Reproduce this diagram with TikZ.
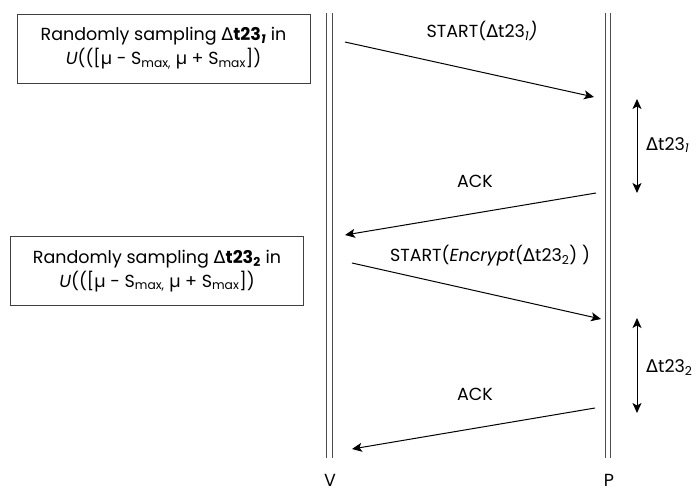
\documentclass[tikz,border=0pt]{standalone}
\usepackage{fontspec}
\setmainfont{Poppins}
\newfontfamily\greekfont{DejaVu Sans}
\newcommand{\Dl}{{\greekfont Δ}}
\newcommand{\mic}{µ}
\usetikzlibrary{arrows.meta}

\begin{document}
\begin{tikzpicture}[x=1pt, y=-1pt,
    every node/.style={font=\fontsize{17.5}{24}\selectfont},
    note node/.style={draw=black!75, line width=1pt, align=center, inner sep=0pt,
                      minimum width=293pt, minimum height=69pt},
    life line/.style={draw=black!70, line width=1pt},
    msg/.style={-{Stealth[length=10pt,width=9pt,inset=2.5pt]}, line width=1pt},
    span/.style={{Stealth[length=10pt,width=9pt,inset=2.5pt]}-{Stealth[length=10pt,width=9pt,inset=2.5pt]}, line width=1pt}]
    \useasboundingbox (0,0) rectangle (697,493);

    % notes on the verifier side
    \node[note node] (box1) at (163.5,48.5)
        {Randomly sampling \Dl\textbf{t23\textsubscript{\textit{1}}} in\\
         \textit{U}(([\mic{} - S\textsubscript{max,} \mic{} + S\textsubscript{max}])};
    \node[note node] (box2) at (157,271)
        {Randomly sampling \Dl\textbf{t23\textsubscript{2}} in\\
         \textit{U}(([\mic{} - S\textsubscript{max,} \mic{} + S\textsubscript{max}])};

    % lifelines, drawn as double lines
    \coordinate (Vtop) at (329.5,13);
    \coordinate (Vbot) at (329.5,458);
    \coordinate (Ptop) at (608,13);
    \coordinate (Pbot) at (608,458);
    \node[inner sep=0pt] (V) at (330,480) {V};
    \node[inner sep=0pt] (P) at (609,480) {P};
    \foreach \dx in {-2.6,2.6} {
        \draw[life line] ([xshift=\dx pt]Vtop) -- ([xshift=\dx pt]Vbot);
        \draw[life line] ([xshift=\dx pt]Ptop) -- ([xshift=\dx pt]Pbot);
    }

    % message ends
    \coordinate (s1) at (345,42);  \coordinate (e1) at (594,97);
    \coordinate (s2) at (596,193); \coordinate (e2) at (345,235);
    \coordinate (s3) at (352,263); \coordinate (e3) at (601,319);
    \coordinate (s4) at (595,408); \coordinate (e4) at (352,449);
    \coordinate (t1a) at (637,99);  \coordinate (t1b) at (637,193);
    \coordinate (t2a) at (637,318); \coordinate (t2b) at (637,413);

    \node (start1) at (482,31) {START(\Dl t23\textsubscript{\textit{1}}\textit{)}};
    \node (ack1) at (475,181) {ACK};
    \node (start2) at (490,256) {START(\textit{Encrypt}(\Dl t23\textsubscript{2}) )};
    \node (ack2) at (475,394) {ACK};
    \node[anchor=west, inner sep=0pt] (d1) at (646,145) {\Dl t23\textsubscript{\textit{1}}};
    \node[anchor=west, inner sep=0pt] (d2) at (646,368) {\Dl t23\textsubscript{2}};

    \draw[msg] (s1) -- (e1);
    \draw[msg] (s2) -- (e2);
    \draw[msg] (s3) -- (e3);
    \draw[msg] (s4) -- (e4);
    \draw[span] (t1a) -- (t1b);
    \draw[span] (t2a) -- (t2b);
\end{tikzpicture}
\end{document}
